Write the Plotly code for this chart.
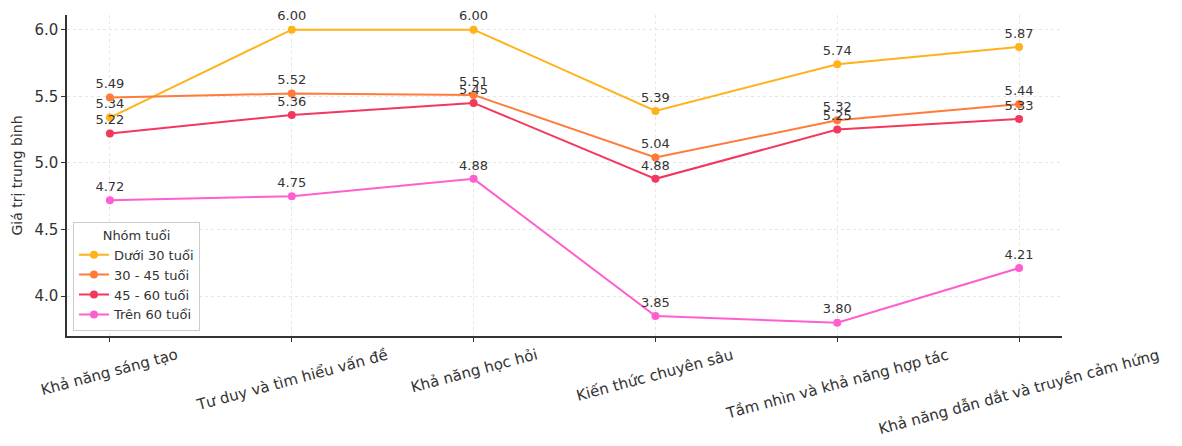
import plotly.graph_objects as go

# Skill categories on the x axis
categories = [
    "Khả năng sáng tạo",
    "Tư duy và tìm hiểu vấn đề",
    "Khả năng học hỏi",
    "Kiến thức chuyên sâu",
    "Tầm nhìn và khả năng hợp tác",
    "Khả năng dẫn dắt và truyền cảm hứng",
]

# Mean score per age group
duoi_30 = [5.34, 6.00, 6.00, 5.39, 5.74, 5.87]
tu_30_45 = [5.49, 5.52, 5.51, 5.04, 5.32, 5.44]
tu_45_60 = [5.22, 5.36, 5.45, 4.88, 5.25, 5.33]
tren_60 = [4.72, 4.75, 4.88, 3.85, 3.80, 4.21]

group_names = ["Dưới 30 tuổi", "30 - 45 tuổi", "45 - 60 tuổi", "Trên 60 tuổi"]
group_values = [duoi_30, tu_30_45, tu_45_60, tren_60]
group_colors = ["#FFB21A", "#FF7B3A", "#F2385C", "#FF5ED0"]

y_ticks = [4.0, 4.5, 5.0, 5.5, 6.0]

FONT = "DejaVu Sans, Verdana, sans-serif"
INK = "#333333"

fig = go.Figure()

for name, vals, color in zip(group_names, group_values, group_colors):
    fig.add_trace(go.Scatter(
        x=categories,
        y=vals,
        name=name,
        mode="lines+markers+text",
        line=dict(color=color, width=2),
        marker=dict(color=color, size=8),
        text=[f"{v:.2f}" for v in vals],
        textposition="top center",
        textfont=dict(family=FONT, size=13, color=INK),
        cliponaxis=False,
    ))

# Rotated category labels, centred under each tick
for cat in categories:
    fig.add_annotation(
        x=cat, xref="x",
        y=0, yref="paper",
        yanchor="top", xanchor="center",
        yshift=-7,
        text=cat,
        textangle=-15,
        showarrow=False,
        font=dict(family=FONT, size=15, color=INK),
    )

fig.update_layout(
    width=1182,
    height=446,
    margin=dict(l=67, r=120, t=15, b=110),
    paper_bgcolor="white",
    plot_bgcolor="white",
    font=dict(family=FONT, color=INK),
    legend=dict(
        title=dict(text="Nhóm tuổi", side="top center",
                   font=dict(family=FONT, size=13, color=INK)),
        font=dict(family=FONT, size=13, color=INK),
        x=0.006, y=0.016,
        xanchor="left", yanchor="bottom",
        bgcolor="rgba(255,255,255,0.85)",
        bordercolor="#cccccc",
        borderwidth=1,
        tracegroupgap=0,
        itemwidth=30,
    ),
    showlegend=True,
)

grid_style = dict(
    showgrid=True,
    gridcolor="#e6e6e6",
    griddash="3px,3px",
    gridwidth=1,
    zeroline=False,
    showline=True,
    linecolor=INK,
    linewidth=1.5,
    ticks="outside",
    ticklen=4,
    tickcolor=INK,
)

fig.update_xaxes(
    type="category",
    range=[-0.236, 5.236],
    showticklabels=False,
    **grid_style,
)

fig.update_yaxes(
    range=[3.70, 6.11],
    tickvals=y_ticks,
    ticktext=[f"{t:.1f}" for t in y_ticks],
    tickfont=dict(family=FONT, size=15, color=INK),
    title=dict(text="Giá trị trung bình", standoff=8,
               font=dict(family=FONT, size=14, color=INK)),
    **grid_style,
)

fig.write_html("out.html")
